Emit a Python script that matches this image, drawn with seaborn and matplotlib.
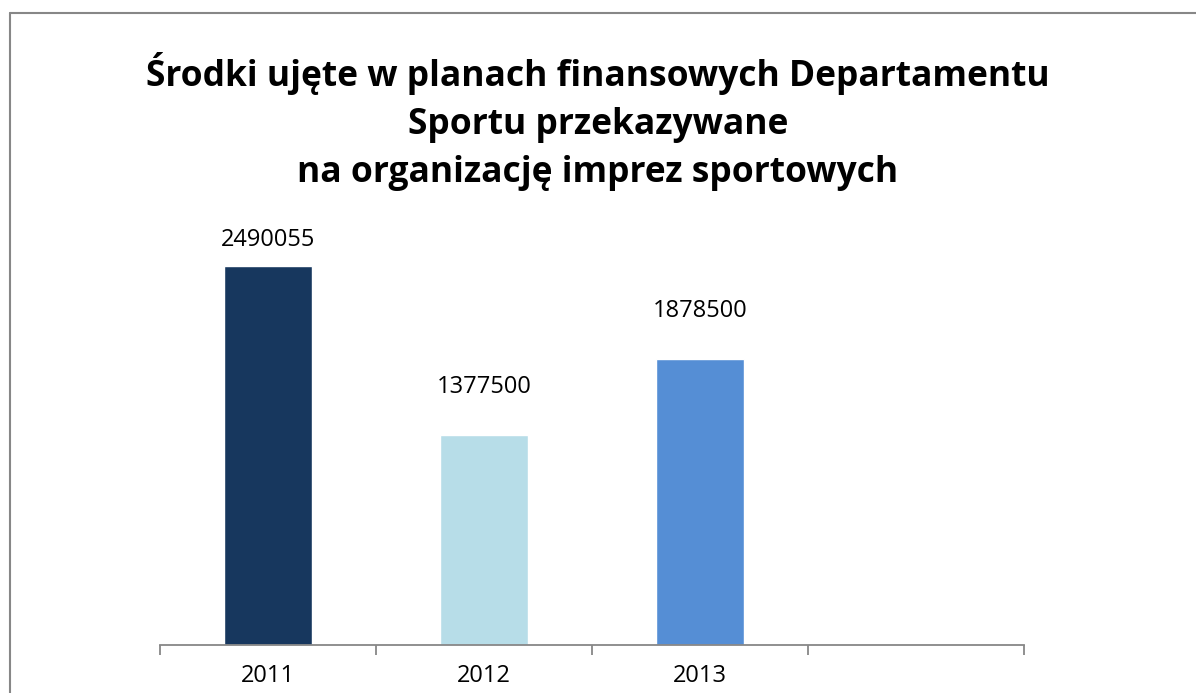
import matplotlib
matplotlib.use('Agg')
import matplotlib.pyplot as plt
import seaborn as sns
import pandas as pd
from matplotlib.lines import Line2D

# Data
YEARS = ['2011', '2012', '2013', '']
VALUES = [2490055, 1377500, 1878500, 0]
COLORS = ['#17375E', '#B7DDE8', '#558ED5', '#FFFFFF']
TITLE = 'Środki ujęte w planach finansowych Departamentu\nSportu przekazywane\nna organizację imprez sportowych'
# label gap above each bar (points) - labels were placed by hand in the original
LABEL_GAP = [14, 30, 30]

sns.set_style('white')
plt.rcParams['font.family'] = ['Open Sans', 'DejaVu Sans']
plt.rcParams['text.color'] = 'black'
plt.rcParams['xtick.color'] = 'black'

df = pd.DataFrame({'year': YEARS, 'value': VALUES})

fig = plt.figure(figsize=(11.96, 6.93), dpi=100)
ax = fig.add_axes([160 / 1196, 48 / 693, 864 / 1196, 457 / 693])

sns.barplot(data=df, x='year', y='value', hue='year', palette=COLORS,
            legend=False, width=0.405, ax=ax, saturation=1)

ax.set_ylim(0, 3000000)
ax.set_xlim(-0.5, 3.5)

# value labels (skip the empty slot)
for i, v in enumerate(VALUES[:3]):
    ax.annotate(str(v), (i, v), xytext=(0, LABEL_GAP[i]), textcoords='offset points',
                ha='center', va='baseline', fontsize=17, color='black')

# axis styling: only the bottom line with ticks between categories
for s in ['left', 'right', 'top']:
    ax.spines[s].set_visible(False)
ax.spines['bottom'].set_color('#878787')
ax.spines['bottom'].set_linewidth(1.3)
ax.set_yticks([])
ax.set_xticks([-0.5, 0.5, 1.5, 2.5, 3.5], minor=True)
ax.set_xticks([0, 1, 2, 3])
ax.set_xticklabels(YEARS, fontsize=17)
ax.tick_params(axis='x', which='major', bottom=False, length=0, pad=14)
ax.tick_params(axis='x', which='minor', bottom=True, length=7, width=1.3,
               color='#878787', direction='out')
ax.set_xlabel('')
ax.set_ylabel('')

fig.text(0.5, 1 - 52 / 693, TITLE, ha='center', va='top', fontsize=25.5,
         fontweight='bold', linespacing=1.45, color='black')

# outer chart-area border (left and top visible)
fig.add_artist(Line2D([10 / 1196, 10 / 1196], [0, 1 - 13 / 693],
                      transform=fig.transFigure, color='#878787', lw=1.5))
fig.add_artist(Line2D([10 / 1196, 1], [1 - 13 / 693, 1 - 13 / 693],
                      transform=fig.transFigure, color='#878787', lw=1.5))

fig.savefig('out.png', dpi=100)
